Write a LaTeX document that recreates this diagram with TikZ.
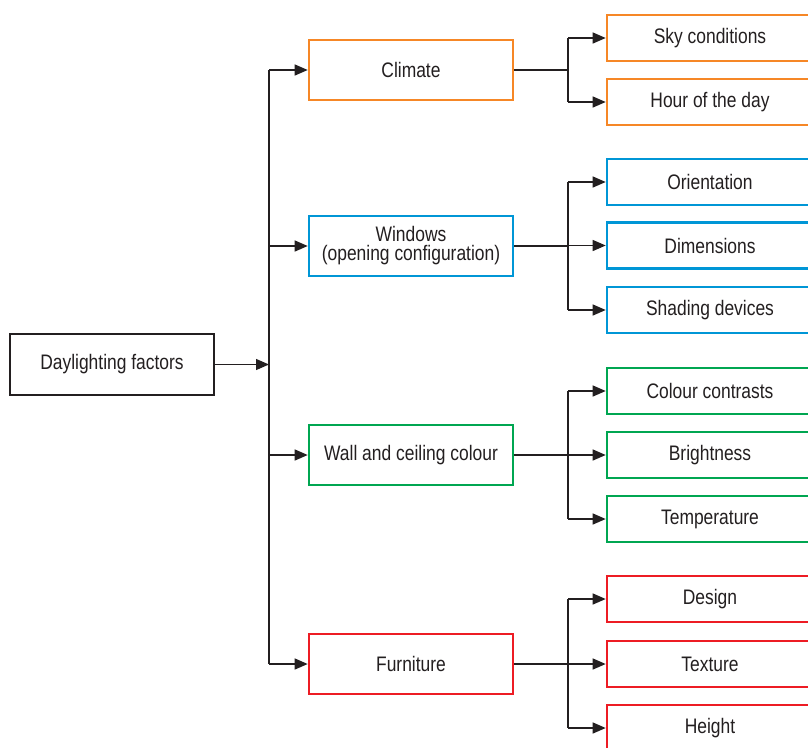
\documentclass[tikz,border=0pt]{standalone}
\usepackage{fontspec}
\setmainfont{Liberation Sans}[FakeStretch=0.83]
\usetikzlibrary{arrows.meta}
\definecolor{corange}{RGB}{246,135,38}
\definecolor{cblue}{RGB}{0,150,214}
\definecolor{cgreen}{RGB}{0,166,81}
\definecolor{cred}{RGB}{237,28,36}
\definecolor{cdark}{RGB}{35,31,32}
\tikzset{
  basebox/.style={draw, line width=2.6pt, fill=white, align=center, text=cdark,
    font=\fontsize{21}{19}\selectfont, inner sep=0pt},
  rootbox/.style={basebox, draw=cdark, minimum width=204pt, minimum height=61pt},
  midbox/.style={basebox, minimum width=204pt, minimum height=60pt},
  leafbox/.style={basebox, minimum width=206pt, minimum height=46pt},
  conn/.style={draw=cdark, line width=1.3pt},
  arr/.style={conn, -{Triangle[length=13pt,width=11pt]}},
}
\begin{document}
\begin{tikzpicture}[x=1pt,y=-1pt]
\useasboundingbox (0,0) rectangle (808,747);
\clip (0,0) rectangle (808,747);
\coordinate (trA) at (269,0);
\coordinate (trB) at (568,0);
% root
\node[rootbox] (root) at (112,364.5) {Daylighting factors};
% level 1
\node[midbox, draw=corange] (clim) at (411,70) {Climate};
\node[midbox, draw=cblue] (win) at (411,246) {Windows\\(opening configuration)};
\node[midbox, draw=cgreen] (wall) at (411,455) {Wall and ceiling colour};
\node[midbox, draw=cred] (furn) at (411,664) {Furniture};
% level 2
\node[leafbox, draw=corange] (sky) at (710,38) {Sky conditions};
\node[leafbox, draw=corange] (hour) at (710,102) {Hour of the day};
\node[leafbox, draw=cblue] (ori) at (710,182) {Orientation};
\node[leafbox, draw=cblue] (dim) at (710,245.5) {Dimensions};
\node[leafbox, draw=cblue] (shad) at (710,310) {Shading devices};
\node[leafbox, draw=cgreen] (col) at (710,391) {Colour contrasts};
\node[leafbox, draw=cgreen] (bri) at (710,455) {Brightness};
\node[leafbox, draw=cgreen] (temp) at (710,519) {Temperature};
\node[leafbox, draw=cred] (des) at (710,599) {Design};
\node[leafbox, draw=cred] (tex) at (710,664) {Texture};
\node[leafbox, draw=cred] (hei) at (710,728) {Height};
% trunk
\coordinate (tTop) at (clim.west -| trA);
\coordinate (tBot) at (furn.west -| trA);
\draw[conn] (tTop) -- (tBot);
\draw[arr] (root.east) -- (root.east -| trA);
\draw[arr] (tTop) -- (clim.west);
\draw[arr] (win.west -| trA) -- (win.west);
\draw[arr] (wall.west -| trA) -- (wall.west);
\draw[arr] (tBot) -- (furn.west);
% climate branch
\draw[conn] (clim.east) -- (clim.east -| trB);
\draw[conn] (sky.west -| trB) -- (hour.west -| trB);
\draw[arr] (sky.west -| trB) -- (sky.west);
\draw[arr] (hour.west -| trB) -- (hour.west);
% windows branch
\draw[conn] (win.east) -- (win.east -| trB);
\draw[conn] (ori.west -| trB) -- (shad.west -| trB);
\draw[arr] (ori.west -| trB) -- (ori.west);
\draw[arr] (dim.west -| trB) -- (dim.west);
\draw[arr] (shad.west -| trB) -- (shad.west);
% wall branch
\draw[conn] (wall.east) -- (wall.east -| trB);
\draw[conn] (col.west -| trB) -- (temp.west -| trB);
\draw[arr] (col.west -| trB) -- (col.west);
\draw[arr] (bri.west -| trB) -- (bri.west);
\draw[arr] (temp.west -| trB) -- (temp.west);
% furniture branch
\draw[conn] (furn.east) -- (furn.east -| trB);
\draw[conn] (des.west -| trB) -- (hei.west -| trB);
\draw[arr] (des.west -| trB) -- (des.west);
\draw[arr] (tex.west -| trB) -- (tex.west);
\draw[arr] (hei.west -| trB) -- (hei.west);
\end{tikzpicture}
\end{document}
